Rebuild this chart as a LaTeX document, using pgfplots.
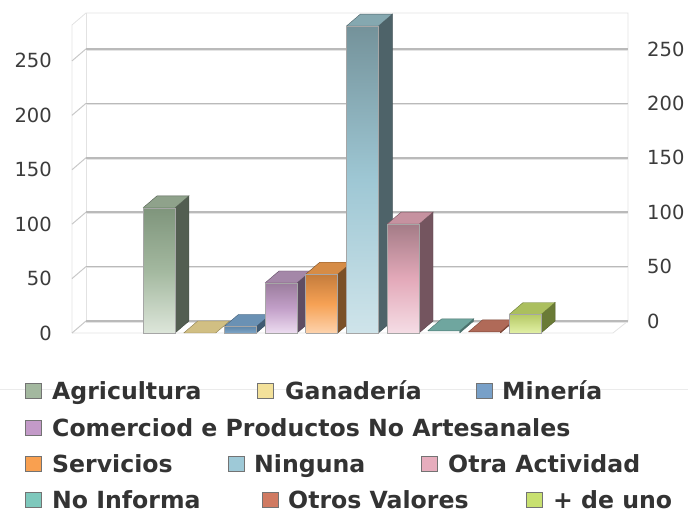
\documentclass[border=0pt]{standalone}
\usepackage{pgfplots}
\pgfplotsset{compat=1.18}
\usepackage{fontspec}
\setmainfont{DejaVu Sans}
\definecolor{txt}{HTML}{333333}
\definecolor{tick}{HTML}{3C3C3C}
\definecolor{grid}{HTML}{BABABA}
\definecolor{gridl}{HTML}{E4E4E4}
\definecolor{wall}{HTML}{E2E2E2}
% legend colours
\definecolor{lAgr}{HTML}{A3B89F}
\definecolor{lGan}{HTML}{F3E19A}
\definecolor{lMin}{HTML}{78A0C8}
\definecolor{lCom}{HTML}{C39AC8}
\definecolor{lSer}{HTML}{F9A050}
\definecolor{lNin}{HTML}{9EC9D7}
\definecolor{lOtr}{HTML}{E6ADBD}
\definecolor{lNoI}{HTML}{7EC8BC}
\definecolor{lOV}{HTML}{D07A62}
\definecolor{lDU}{HTML}{C8E070}
% bar face colours
\definecolor{aT}{HTML}{7F957C}\definecolor{aM}{HTML}{A3B89F}\definecolor{aB}{HTML}{DDE6DA}\definecolor{aS}{HTML}{535E51}\definecolor{aP}{HTML}{8FA28B}
\definecolor{gT}{HTML}{C8B67A}\definecolor{gS}{HTML}{8A7C4E}\definecolor{gP}{HTML}{D1BF83}
\definecolor{mT}{HTML}{5F86A8}\definecolor{mB}{HTML}{7EA6C8}\definecolor{mS}{HTML}{3F5A72}\definecolor{mP}{HTML}{6A91B4}
\definecolor{cT}{HTML}{9B7D9D}\definecolor{cM}{HTML}{C29FC8}\definecolor{cB}{HTML}{ECDCF0}\definecolor{cS}{HTML}{5F4D63}\definecolor{cP}{HTML}{A487A8}
\definecolor{sT}{HTML}{C47C3C}\definecolor{sM}{HTML}{F6A154}\definecolor{sB}{HTML}{FDD3AD}\definecolor{sS}{HTML}{7B5027}\definecolor{sP}{HTML}{D68C46}
\definecolor{nT}{HTML}{74929A}\definecolor{nM}{HTML}{9EC7D4}\definecolor{nB}{HTML}{CFE4EA}\definecolor{nS}{HTML}{4E6369}\definecolor{nP}{HTML}{85A8B0}
\definecolor{oT}{HTML}{A47C87}\definecolor{oM}{HTML}{E3A9B9}\definecolor{oB}{HTML}{F5DDE5}\definecolor{oS}{HTML}{74555F}\definecolor{oP}{HTML}{C692A0}
\definecolor{iT}{HTML}{6FA69F}\definecolor{iS}{HTML}{4A716C}\definecolor{iP}{HTML}{6FA69F}
\definecolor{vT}{HTML}{B06A58}\definecolor{vS}{HTML}{7A4436}\definecolor{vP}{HTML}{B06A58}
\definecolor{dT}{HTML}{B6CA66}\definecolor{dB}{HTML}{E2F0A6}\definecolor{dS}{HTML}{6A7B36}\definecolor{dP}{HTML}{ABBF5E}
\newcommand\tickfont{\fontsize{19.5}{20}\selectfont\color{tick}}
\newcommand\legfont{\fontsize{23.6}{24}\selectfont\bfseries\color{txt}}
\begin{document}
\begin{tikzpicture}
\begin{axis}[at={(72pt,178pt)}, anchor=south west, scale only axis,
  width=556pt, height=320pt, xmin=-1.139, xmax=12.53, ymin=0, ymax=294,
  axis lines=none, clip=false,
  front/.style={draw=black!35, line width=0.6pt},
  side/.style={line width=0.4pt},
  topf/.style={line width=0.4pt}]
% walls and floor
\draw[wall, line width=0.8pt] (axis cs:-1.139,0) -- (axis cs:-1.139,283) -- (axis cs:-0.795,294) -- (axis cs:12.53,294) -- (axis cs:12.53,11);
\draw[wall, line width=0.8pt] (axis cs:-0.795,11) -- (axis cs:-0.795,294);
\draw[wall, line width=0.8pt] (axis cs:-1.139,0) -- (axis cs:12.16,0) -- (axis cs:12.53,11);
% grid lines: back wall
\draw[grid, line width=1.5pt] (axis cs:-0.795,11) -- (axis cs:12.53,11);
\draw[grid, line width=1.5pt] (axis cs:-0.795,61) -- (axis cs:12.53,61);
\draw[grid, line width=1.5pt] (axis cs:-0.795,111) -- (axis cs:12.53,111);
\draw[grid, line width=1.5pt] (axis cs:-0.795,161) -- (axis cs:12.53,161);
\draw[grid, line width=1.5pt] (axis cs:-0.795,211) -- (axis cs:12.53,211);
\draw[grid, line width=1.5pt] (axis cs:-0.795,261) -- (axis cs:12.53,261);
\draw[gridl, line width=1pt, yshift=-1.3pt] (axis cs:-0.795,11) -- (axis cs:12.53,11);
\draw[gridl, line width=1pt, yshift=-1.3pt] (axis cs:-0.795,61) -- (axis cs:12.53,61);
\draw[gridl, line width=1pt, yshift=-1.3pt] (axis cs:-0.795,111) -- (axis cs:12.53,111);
\draw[gridl, line width=1pt, yshift=-1.3pt] (axis cs:-0.795,161) -- (axis cs:12.53,161);
\draw[gridl, line width=1pt, yshift=-1.3pt] (axis cs:-0.795,211) -- (axis cs:12.53,211);
\draw[gridl, line width=1pt, yshift=-1.3pt] (axis cs:-0.795,261) -- (axis cs:12.53,261);
% grid lines: left wall
\draw[grid!80, line width=1pt] (axis cs:-1.139,0) -- (axis cs:-0.795,11);
\draw[grid!80, line width=1pt] (axis cs:-1.139,50) -- (axis cs:-0.795,61);
\draw[grid!80, line width=1pt] (axis cs:-1.139,100) -- (axis cs:-0.795,111);
\draw[grid!80, line width=1pt] (axis cs:-1.139,150) -- (axis cs:-0.795,161);
\draw[grid!80, line width=1pt] (axis cs:-1.139,200) -- (axis cs:-0.795,211);
\draw[grid!80, line width=1pt] (axis cs:-1.139,250) -- (axis cs:-0.795,261);

% ---- Agricultura: 115
\addplot[side, draw=aS!80!black, fill=aS] coordinates {(1.393,0) (1.737,11) (1.737,126) (1.393,115) (1.393,0)};
\addplot[topf, draw=aS, fill=aP] coordinates {(0.607,115) (1.393,115) (1.737,126) (0.951,126) (0.607,115)};
\addplot[front, top color=aT, bottom color=aB, middle color=aM] coordinates {(0.607,0) (1.393,0) (1.393,115) (0.607,115) (0.607,0)};
% ---- Ganaderia: 0
\addplot[topf, draw=gS, fill=gP] coordinates {(1.607,0) (2.393,0) (2.737,11) (1.951,11) (1.607,0)};
% ---- Mineria: 6
\addplot[side, draw=mS!80!black, fill=mS] coordinates {(3.393,0) (3.737,11) (3.737,17) (3.393,6) (3.393,0)};
\addplot[topf, draw=mS, fill=mP] coordinates {(2.607,6) (3.393,6) (3.737,17) (2.951,17) (2.607,6)};
\addplot[front, top color=mT, bottom color=mB] coordinates {(2.607,0) (3.393,0) (3.393,6) (2.607,6) (2.607,0)};
% ---- Comercio: 46
\addplot[side, draw=cS!80!black, fill=cS] coordinates {(4.393,0) (4.737,11) (4.737,57) (4.393,46) (4.393,0)};
\addplot[topf, draw=cS, fill=cP] coordinates {(3.607,46) (4.393,46) (4.737,57) (3.951,57) (3.607,46)};
\addplot[front, top color=cT, bottom color=cB, middle color=cM] coordinates {(3.607,0) (4.393,0) (4.393,46) (3.607,46) (3.607,0)};
% ---- Servicios: 54
\addplot[side, draw=sS!80!black, fill=sS] coordinates {(5.393,0) (5.737,11) (5.737,65) (5.393,54) (5.393,0)};
\addplot[topf, draw=sS, fill=sP] coordinates {(4.607,54) (5.393,54) (5.737,65) (4.951,65) (4.607,54)};
\addplot[front, top color=sT, bottom color=sB, middle color=sM] coordinates {(4.607,0) (5.393,0) (5.393,54) (4.607,54) (4.607,0)};
% ---- Ninguna: 282
\addplot[side, draw=nS!80!black, fill=nS] coordinates {(6.393,0) (6.737,11) (6.737,293) (6.393,282) (6.393,0)};
\addplot[topf, draw=nS, fill=nP] coordinates {(5.607,282) (6.393,282) (6.737,293) (5.951,293) (5.607,282)};
\addplot[front, top color=nT, bottom color=nB, middle color=nM] coordinates {(5.607,0) (6.393,0) (6.393,282) (5.607,282) (5.607,0)};
% ---- Otra Actividad: 100
\addplot[side, draw=oS!80!black, fill=oS] coordinates {(7.393,0) (7.737,11) (7.737,111) (7.393,100) (7.393,0)};
\addplot[topf, draw=oS, fill=oP] coordinates {(6.607,100) (7.393,100) (7.737,111) (6.951,111) (6.607,100)};
\addplot[front, top color=oT, bottom color=oB, middle color=oM] coordinates {(6.607,0) (7.393,0) (7.393,100) (6.607,100) (6.607,0)};
% ---- No Informa: 2
\addplot[side, draw=iS, fill=iS] coordinates {(8.393,0) (8.737,11) (8.737,13) (8.393,2) (8.393,0)};
\addplot[topf, draw=iS, fill=iP] coordinates {(7.607,2) (8.393,2) (8.737,13) (7.951,13) (7.607,2)};
% ---- Otros Valores: 1
\addplot[side, draw=vS, fill=vS] coordinates {(9.393,0) (9.737,11) (9.737,12) (9.393,1) (9.393,0)};
\addplot[topf, draw=vS, fill=vP] coordinates {(8.607,1) (9.393,1) (9.737,12) (8.951,12) (8.607,1)};
% ---- + de uno: 17
\addplot[side, draw=dS!80!black, fill=dS] coordinates {(10.393,0) (10.737,11) (10.737,28) (10.393,17) (10.393,0)};
\addplot[topf, draw=dS, fill=dP] coordinates {(9.607,17) (10.393,17) (10.737,28) (9.951,28) (9.607,17)};
\addplot[front, top color=dT, bottom color=dB] coordinates {(9.607,0) (10.393,0) (10.393,17) (9.607,17) (9.607,0)};

% tick labels left (front) and right (back)
\node[anchor=east, inner sep=0pt, xshift=-20pt, font=\tickfont] at (axis cs:-1.139,0) {0};
\node[anchor=east, inner sep=0pt, xshift=-20pt, font=\tickfont] at (axis cs:-1.139,50) {50};
\node[anchor=east, inner sep=0pt, xshift=-20pt, font=\tickfont] at (axis cs:-1.139,100) {100};
\node[anchor=east, inner sep=0pt, xshift=-20pt, font=\tickfont] at (axis cs:-1.139,150) {150};
\node[anchor=east, inner sep=0pt, xshift=-20pt, font=\tickfont] at (axis cs:-1.139,200) {200};
\node[anchor=east, inner sep=0pt, xshift=-20pt, font=\tickfont] at (axis cs:-1.139,250) {250};
\node[anchor=west, inner sep=0pt, xshift=19pt, font=\tickfont] at (axis cs:12.53,11) {0};
\node[anchor=west, inner sep=0pt, xshift=19pt, font=\tickfont] at (axis cs:12.53,61) {50};
\node[anchor=west, inner sep=0pt, xshift=19pt, font=\tickfont] at (axis cs:12.53,111) {100};
\node[anchor=west, inner sep=0pt, xshift=19pt, font=\tickfont] at (axis cs:12.53,161) {150};
\node[anchor=west, inner sep=0pt, xshift=19pt, font=\tickfont] at (axis cs:12.53,211) {200};
\node[anchor=west, inner sep=0pt, xshift=19pt, font=\tickfont] at (axis cs:12.53,261) {250};
\end{axis}

% faint separator line behind legend
\draw[black!8, line width=0.8pt] (0pt,122pt) -- (688pt,122pt);

% legend
\newcommand\legbox[3]{% x of box, baseline, colour
  \draw[draw=black!55, line width=0.8pt, fill=#3] (#1pt,#2pt+1.5pt) rectangle (#1pt+16.5pt,#2pt+16.5pt);}
\newcommand\legtext[3]{\node[anchor=base west, inner sep=0pt, font=\legfont] at (#1pt,#2pt) {#3};}
% row 1
\legbox{25}{111}{lAgr}\legtext{52}{111}{Agricultura}
\legbox{257}{111}{lGan}\legtext{285}{111}{Ganadería}
\legbox{476}{111}{lMin}\legtext{502}{111}{Minería}
% row 2
\legbox{25}{74.5}{lCom}\legtext{52}{74.5}{Comerciod e Productos No Artesanales}
% row 3
\legbox{25}{38}{lSer}\legtext{52}{38}{Servicios}
\legbox{228}{38}{lNin}\legtext{254}{38}{Ninguna}
\legbox{421}{38}{lOtr}\legtext{448}{38}{Otra Actividad}
% row 4
\legbox{25}{2}{lNoI}\legtext{52}{2}{No Informa}
\legbox{262}{2}{lOV}\legtext{288}{2}{Otros Valores}
\legbox{526}{2}{lDU}\legtext{553}{2}{+ de uno}

\pgfresetboundingbox
\path[use as bounding box] (0pt,0pt) rectangle (688pt,511pt);
\end{tikzpicture}
\end{document}
